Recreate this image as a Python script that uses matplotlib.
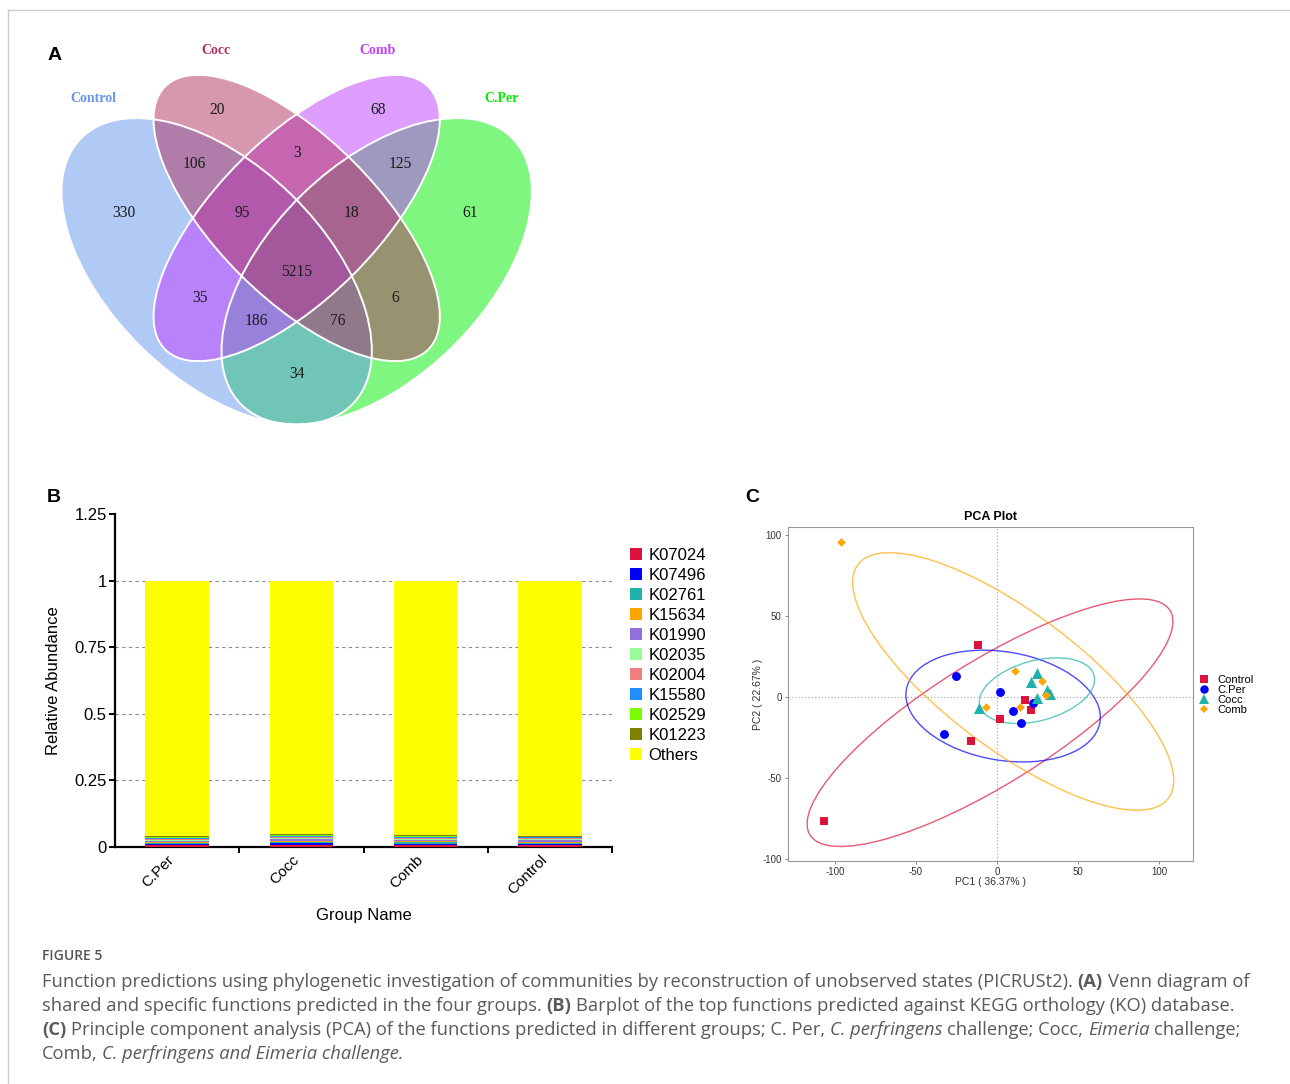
import matplotlib
matplotlib.use('Agg')
import matplotlib.pyplot as plt
from matplotlib.patches import Ellipse, Patch
from matplotlib.lines import Line2D
import matplotlib.transforms as mtransforms
import numpy as np

plt.rcParams['axes.unicode_minus'] = False

W, H = 1290, 1084
fig = plt.figure(figsize=(W / 100, H / 100), dpi=100)
fig.patch.set_facecolor('white')

SANS = ['Liberation Sans', 'DejaVu Sans']
SERIF = ['Liberation Serif', 'DejaVu Serif']
CAP = ['Open Sans', 'DejaVu Sans']


def rect(x0, y0, x1, y1):
    return [x0 / W, 1 - y1 / H, (x1 - x0) / W, (y1 - y0) / H]


def fx(x):
    return x / W


def fy(y):
    return 1 - y / H


# ------------------------------------------------------------------ data
# Panel A: Venn diagram
venn_sets = ['Control', 'Cocc', 'Comb', 'C.Per']
venn_set_colors = ['#6495ED', '#B03060', '#BF3EFF', '#00EE00']
venn_region_members = ['Control', 'Cocc', 'Comb', 'C.Per',
                       'Control&Cocc', 'Cocc&Comb', 'Comb&C.Per',
                       'Control&Cocc&Comb', 'Cocc&Comb&C.Per',
                       'Control&Cocc&Comb&C.Per',
                       'Control&Comb', 'Cocc&C.Per',
                       'Control&Comb&C.Per', 'Control&Cocc&C.Per',
                       'Control&C.Per']
venn_region_counts = [330, 20, 68, 61, 106, 3, 125, 95, 18, 5215, 35, 6, 186, 76, 34]

# Panel B: relative abundance of top KEGG orthologs
groups = ['C.Per', 'Cocc', 'Comb', 'Control']
ko_ids = ['K07024', 'K07496', 'K02761', 'K15634', 'K01990',
          'K02035', 'K02004', 'K15580', 'K02529', 'K01223']
ko_abundance = [
    [0.0058, 0.0072, 0.0066, 0.0062],
    [0.0050, 0.0062, 0.0057, 0.0053],
    [0.0045, 0.0055, 0.0050, 0.0047],
    [0.0042, 0.0051, 0.0047, 0.0044],
    [0.0040, 0.0048, 0.0044, 0.0042],
    [0.0037, 0.0045, 0.0041, 0.0039],
    [0.0035, 0.0043, 0.0039, 0.0037],
    [0.0033, 0.0040, 0.0037, 0.0035],
    [0.0031, 0.0038, 0.0035, 0.0033],
    [0.0029, 0.0036, 0.0033, 0.0031],
]
ko_colors = ['#DC143C', '#0000FF', '#20B2AA', '#FFA500', '#9370DB',
             '#98FB98', '#F08080', '#1E90FF', '#7CFC00', '#808000']
others_color = '#FFFF00'
bar_yticks = [0, 0.25, 0.5, 0.75, 1, 1.25]
bar_yticklabels = ['0', '0.25', '0.5', '0.75', '1', '1.25']

# Panel C: PCA
pca_groups = ['Control', 'C.Per', 'Cocc', 'Comb']
pca_control_x = [-12, -107, -16, 2, 17, 21]
pca_control_y = [32, -77, -27, -14, -2, -8]
pca_cper_x = [-25, -33, 2, 10, 15, 22]
pca_cper_y = [13, -23, 3, -9, -16, -4]
pca_cocc_x = [-11, 21, 25, 31, 33, 25]
pca_cocc_y = [-7, 9, 15, 4, 2, -1]
pca_comb_x = [-96, 11, 28, 30, 14, -7]
pca_comb_y = [96, 16, 10, 1, -6, -6]
# confidence ellipses: centre, semi-axes, angle
pca_ell_cx = [-4.3, 3.8, 24.7, 10.0]
pca_ell_cy = [-16.0, -5.7, 3.8, 9.5]
pca_ell_a = [131, 60.6, 36.5, 120]
pca_ell_b = [38, 33.5, 18.6, 42]
pca_ell_angle = [32, -9.6, 15, -37]
pca_colors = ['#DC143C', '#0000FF', '#20B2AA', '#FFA500']
pca_markers = ['s', 'o', '^', 'D']
pca_msize = [6.2, 6.4, 8.0, 4.4]
pc1_var = 36.37
pc2_var = 22.67

# ------------------------------------------------------------------ frame lines
fig.add_artist(Line2D([fx(8), 1], [fy(10), fy(10)], color='#cccccc', lw=1))
fig.add_artist(Line2D([fx(8), fx(8)], [fy(10), 0], color='#cccccc', lw=1))

# ------------------------------------------------------------------ panel A
axv = fig.add_axes(rect(0, 0, 600, 460))
axv.set_xlim(0, 600)
axv.set_ylim(460, 0)
axv.axis('off')

venn_layout = {  # centre x, centre y, width, height, angle  (pixel layout)
    'Control': (216.7, 271.3, 380, 214, 44.3),
    'Cocc': (296.7, 218.0, 372, 160, 45.0),
    'Comb': (296.7, 218.0, 372, 160, -45.0),
    'C.Per': (376.7, 271.3, 380, 214, -44.3),
}
venn_draw_order = ['C.Per', 'Control', 'Comb', 'Cocc']
for name in venn_draw_order:
    cx, cy, w, h, ang = venn_layout[name]
    col = venn_set_colors[venn_sets.index(name)]
    axv.add_patch(Ellipse((cx, cy), w, h, angle=ang, facecolor=col,
                          alpha=0.5, edgecolor='none'))
for name in venn_draw_order:
    cx, cy, w, h, ang = venn_layout[name]
    axv.add_patch(Ellipse((cx, cy), w, h, angle=ang, facecolor='none',
                          edgecolor='white', lw=1.4))

venn_label_pos = [(93, 98), (216, 50), (378, 50), (502, 98)]
for name, col, (x, y) in zip(venn_sets, venn_set_colors, venn_label_pos):
    axv.text(x, y, name, color=col, family=SERIF, fontweight='bold',
             fontsize=10, ha='center', va='center')

venn_count_pos = [(124, 212.7), (216.7, 110), (378.3, 110), (470, 212.7),
                  (194.3, 164), (296.7, 153.3), (400, 164),
                  (242.7, 212.7), (351.7, 212.7), (296.7, 271.7),
                  (200, 298.3), (395, 298.3), (256.7, 320.7), (337.7, 320.7),
                  (296.7, 374)]
for cnt, (x, y) in zip(venn_region_counts, venn_count_pos):
    axv.text(x, y, str(cnt), family=SERIF, fontsize=11.2, color='#1a1a1a',
             ha='center', va='center')

fig.text(fx(55), fy(55), 'A', family=SANS, fontweight='bold', fontsize=14,
         ha='center', va='center')
fig.text(fx(54), fy(497), 'B', family=SANS, fontweight='bold', fontsize=14,
         ha='center', va='center')
fig.text(fx(752), fy(497), 'C', family=SANS, fontweight='bold', fontsize=14,
         ha='center', va='center')

# ------------------------------------------------------------------ panel B
axb = fig.add_axes(rect(115, 514, 612, 847))
xpos = np.arange(len(groups)) + 0.5
bottom = np.zeros(len(groups))
handles = []
for kid, vals, col in zip(ko_ids, ko_abundance, ko_colors):
    axb.bar(xpos, vals, width=0.51, bottom=bottom, color=col, linewidth=0, zorder=3)
    bottom = bottom + np.array(vals)
    handles.append(Patch(facecolor=col, edgecolor='none', label=kid))
others = 1 - bottom
axb.bar(xpos, others, width=0.51, bottom=bottom, color=others_color, linewidth=0, zorder=3)
handles.append(Patch(facecolor=others_color, edgecolor='none', label='Others'))

axb.set_xlim(0, len(groups))
axb.set_ylim(0, 1.25)
for v in bar_yticks[1:-1]:
    axb.axhline(v, color='#8c8c8c', lw=0.8, ls=(0, (3, 3)), zorder=1)
for s in ['top', 'right']:
    axb.spines[s].set_visible(False)
for s in ['left', 'bottom']:
    axb.spines[s].set_linewidth(1.6)
axb.set_yticks(bar_yticks)
axb.set_yticklabels(bar_yticklabels, family=SANS, fontsize=12)
axb.set_xticks(np.arange(1, len(groups) + 1))
axb.set_xticklabels([])
axb.set_xticks(xpos, minor=True)
axb.set_xticklabels(groups, minor=True, rotation=45, ha='right', va='top',
                    family=SANS, fontsize=11)
shift = mtransforms.ScaledTranslation(6 / 100, 0, fig.dpi_scale_trans)
for lab in axb.get_xticklabels(minor=True):
    lab.set_transform(lab.get_transform() + shift)
axb.tick_params(axis='x', which='minor', length=0, pad=4)
axb.tick_params(axis='x', which='major', length=4, width=1.4)
axb.tick_params(axis='y', length=4, width=1.4, pad=2)
axb.set_ylabel('Relative Abundance', family=SANS, fontsize=12)
axb.yaxis.set_label_coords(-0.108, 0.5)
axb.set_xlabel('Group Name', family=SANS, fontsize=12)
axb.xaxis.set_label_coords(0.5, -0.184)
axb.legend(handles=handles, loc='upper left', bbox_to_anchor=(fx(630), fy(548)),
           bbox_transform=fig.transFigure, frameon=False,
           prop={'family': SANS, 'size': 12}, handlelength=0.7, handleheight=0.7,
           handletextpad=0.4, labelspacing=0.30, borderpad=0, borderaxespad=0)

# ------------------------------------------------------------------ panel C
axp = fig.add_axes(rect(788, 527, 1193, 861))
axp.set_xlim(-129, 121)
axp.set_ylim(-101.5, 105)
axp.axhline(0, color='#b0b0b0', lw=0.9, ls=':', zorder=1)
axp.axvline(0, color='#b0b0b0', lw=0.9, ls=':', zorder=1)
for i in range(len(pca_groups)):
    axp.add_patch(Ellipse((pca_ell_cx[i], pca_ell_cy[i]), 2 * pca_ell_a[i],
                          2 * pca_ell_b[i], angle=pca_ell_angle[i], fill=False,
                          edgecolor=pca_colors[i], lw=1.0, alpha=0.7, zorder=2))
pca_xs = [pca_control_x, pca_cper_x, pca_cocc_x, pca_comb_x]
pca_ys = [pca_control_y, pca_cper_y, pca_cocc_y, pca_comb_y]
pca_handles = []
for i, g in enumerate(pca_groups):
    axp.scatter(pca_xs[i], pca_ys[i], marker=pca_markers[i], s=pca_msize[i] ** 2,
                color=pca_colors[i], linewidths=0, zorder=3 + i)
    pca_handles.append(Line2D([], [], ls='none', marker=pca_markers[i],
                              markersize=pca_msize[i] * 0.95, color=pca_colors[i],
                              markeredgewidth=0, label=g))
for s in axp.spines.values():
    s.set_color('#999999')
    s.set_linewidth(0.8)
axp.set_xticks([-100, -50, 0, 50, 100])
axp.set_yticks([-100, -50, 0, 50, 100])
axp.tick_params(length=2.5, width=0.7, color='#888888', labelsize=7,
                labelcolor='#333333', pad=2)
for lab in axp.get_xticklabels() + axp.get_yticklabels():
    lab.set_family(SANS)
axp.set_title('PCA Plot', family=SANS, fontweight='bold', fontsize=9, pad=5)
axp.set_xlabel('PC1 ( %.2f%% )' % pc1_var, family=SANS, fontsize=7.5, color='#333333')
axp.xaxis.set_label_coords(0.5, -0.047)
axp.set_ylabel('PC2 ( %.2f%% )' % pc2_var, family=SANS, fontsize=7.5, color='#333333')
axp.yaxis.set_label_coords(-0.061, 0.5)
axp.legend(handles=pca_handles, loc='upper left', bbox_to_anchor=(fx(1200), fy(675)),
           bbox_transform=fig.transFigure, frameon=False,
           prop={'family': SANS, 'size': 8}, handlelength=0.8,
           handletextpad=0.75, labelspacing=0.0, borderpad=0, borderaxespad=0)

# ------------------------------------------------------------------ caption
renderer = fig.canvas.get_renderer()
CAP_COLOR = '#5a5a5a'
CAP_SIZE = 13.28


def text_width(s, **kw):
    t = fig.text(0, 0, s, **kw)
    w = t.get_window_extent(renderer).width
    t.remove()
    return w


def caption_line(pieces, x, y):
    base = dict(family=CAP, fontsize=CAP_SIZE)
    sw = text_width('x x', **base) - text_width('xx', **base)
    for txt, weight, style in pieces:
        lead = len(txt) - len(txt.lstrip(' '))
        trail = len(txt) - len(txt.rstrip(' '))
        x += lead * sw
        core = txt.strip(' ')
        t = fig.text(fx(x), fy(y), core, family=CAP, fontsize=CAP_SIZE,
                     fontweight=weight, fontstyle=style, color=CAP_COLOR,
                     ha='left', va='baseline')
        x += t.get_window_extent(renderer).width + trail * sw


fig.text(fx(42), fy(960.5), 'FIGURE 5', family=CAP, fontsize=10,
         fontweight='semibold', color='#555555', ha='left', va='baseline')
N, B, I = 'normal', 'bold', 'italic'
caption_line([('Function predictions using phylogenetic investigation of communities by '
               'reconstruction of unobserved states (PICRUSt2). ', N, 'normal'),
              ('(A)', B, 'normal'), (' Venn diagram of', N, 'normal')], 42, 987)
caption_line([('shared and specific functions predicted in the four groups. ', N, 'normal'),
              ('(B)', B, 'normal'),
              (' Barplot of the top functions predicted against KEGG orthology (KO) database.',
               N, 'normal')], 42, 1011)
caption_line([('(C)', B, 'normal'),
              (' Principle component analysis (PCA) of the functions predicted in different '
               'groups; C. Per, ', N, 'normal'),
              ('C. perfringens', N, I), (' challenge; Cocc, ', N, 'normal'),
              ('Eimeria', N, I), (' challenge;', N, 'normal')], 42, 1035)
caption_line([('Comb, ', N, 'normal'),
              ('C. perfringens and Eimeria challenge.', N, I)], 42, 1059)

fig.savefig('out.png', dpi=100, facecolor='white')
